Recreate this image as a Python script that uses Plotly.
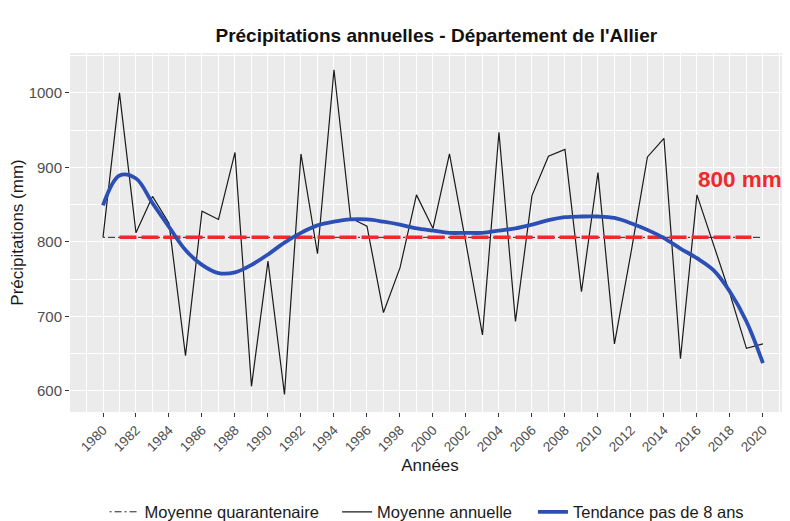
import plotly.graph_objects as go

years = [1980, 1981, 1982, 1983, 1984, 1985, 1986, 1987, 1988, 1989,
         1990, 1991, 1992, 1993, 1994, 1995, 1996, 1997, 1998, 1999,
         2000, 2001, 2002, 2003, 2004, 2005, 2006, 2007, 2008, 2009,
         2010, 2011, 2012, 2013, 2014, 2015, 2016, 2017, 2018, 2019, 2020]

annual = [806, 1000, 812, 861, 825, 647, 841, 830, 920, 606,
          774, 595, 918, 784, 1031, 832, 821, 705, 765, 863,
          818, 918, 798, 675, 947, 693, 862, 915, 924, 733,
          893, 663, 785, 914, 939, 643, 863, 795, 730, 657, 663]

trend = [849, 889, 885, 852, 820, 789, 769, 758, 759, 769,
         783, 799, 812, 822, 827, 830, 830, 827, 823, 818,
         815, 812, 812, 812, 815, 818, 823, 829, 833, 834,
         834, 832, 825, 816, 805, 791, 778, 762, 733, 693, 637]

mean_value = 806
mean_years = [1980, 2020]
ref_years = [1981, 2019.3]
ref_value = 806

x_ticks = list(range(1980, 2021, 2))
y_ticks = [600, 700, 800, 900, 1000]

font_family = "Liberation Sans, Arial, sans-serif"

fig = go.Figure()

fig.add_trace(go.Scatter(
    x=mean_years, y=[mean_value, mean_value], mode="lines",
    name="Moyenne quarantenaire",
    line=dict(color="#222222", width=1, dash="2px,3px,7px,3px"),
    legend="legend", hoverinfo="skip"))

fig.add_trace(go.Scatter(
    x=years, y=annual, mode="lines", name="Moyenne annuelle",
    line=dict(color="#1a1a1a", width=1.2),
    legend="legend2"))

fig.add_trace(go.Scatter(
    x=ref_years, y=[ref_value, ref_value], mode="lines",
    showlegend=False,
    line=dict(color="#ee2a2a", width=3.5, dash="17px,5px"),
    hoverinfo="skip"))

fig.add_trace(go.Scatter(
    x=years, y=trend, mode="lines", name="Tendance pas de 8 ans",
    line=dict(color="#2b4fb5", width=3.8, shape="spline"),
    legend="legend3"))

fig.add_annotation(
    x=2015.95, y=883, xref="x", yref="y", text="<b>800 mm</b>",
    showarrow=False, xanchor="left", yanchor="middle",
    font=dict(family=font_family, size=22.5, color="#ee2a2a"))

legend_common = dict(
    orientation="h", yanchor="top", y=-0.23, xanchor="left",
    font=dict(family=font_family, size=16.5, color="#1a1a1a"),
    bgcolor="rgba(0,0,0,0)", itemwidth=30)

# The page body adds an 8px margin, so the figure is 8px smaller than the window.
fig.update_layout(
    width=782, height=513,
    paper_bgcolor="white", plot_bgcolor="#ebebeb",
    margin=dict(l=62, r=0, t=45, b=109, autoexpand=False),
    title=dict(text="<b>Précipitations annuelles - Département de l'Allier</b>",
               x=0.5477, xanchor="center", y=0.946, yanchor="middle",
               font=dict(family=font_family, size=19, color="#111111")),
    font=dict(family=font_family),
    legend=dict(legend_common, x=0.048),
    legend2=dict(legend_common, x=0.371),
    legend3=dict(legend_common, x=0.643),
    showlegend=True,
)

fig.update_xaxes(
    range=[1978, 2021.64], tickmode="array", tickvals=x_ticks,
    ticktext=[str(t) for t in x_ticks], tickangle=-45,
    ticks="outside", ticklen=4, tickcolor="#333333", tickwidth=1,
    tickfont=dict(family=font_family, size=13.5, color="#4d4d4d"),
    showgrid=True, gridcolor="white", gridwidth=1.1,
    minor=dict(dtick=1, tick0=1979, showgrid=True, gridcolor="white", gridwidth=0.5),
    zeroline=False, showline=False, automargin=False,
    title=dict(text="Années", standoff=5,
               font=dict(family=font_family, size=17, color="#1a1a1a")))

fig.update_yaxes(
    range=[571.5, 1053.5], tickmode="array", tickvals=y_ticks,
    ticks="outside", ticklen=4, tickcolor="#333333", tickwidth=1,
    tickfont=dict(family=font_family, size=15, color="#4d4d4d"),
    showgrid=True, gridcolor="white", gridwidth=1.1,
    minor=dict(dtick=50, tick0=550, showgrid=True, gridcolor="white", gridwidth=0.5),
    zeroline=False, showline=False, automargin=False,
    title=dict(text="Précipitations (mm)", standoff=1,
               font=dict(family=font_family, size=17, color="#1a1a1a")))

fig.write_html("out.html")
